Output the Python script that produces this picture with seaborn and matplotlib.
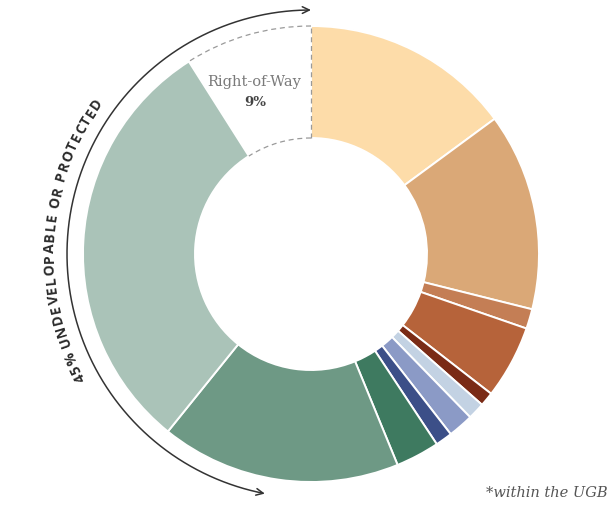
import numpy as np
import matplotlib
matplotlib.use("Agg")
import matplotlib.pyplot as plt
import seaborn as sns
from matplotlib.patches import Arc, FancyArrowPatch
from matplotlib.path import Path
from matplotlib.font_manager import FontProperties

# Land share within the urban growth boundary (percent), clockwise from 12 o'clock
categories = [
    "Single-family", "Multi-family", "Mixed use", "Commercial", "Industrial",
    "Institutional", "Public facilities", "Utilities", "Parks",
    "Protected natural areas", "Undevelopable", "Right-of-Way",
]
shares = [14.9, 14.0, 1.4, 5.2, 1.0, 1.2, 1.8, 1.2, 3.1, 17.0, 30.2, 9.0]
colors = [
    "#FDDCA9", "#DAA877", "#C47E55", "#B6633A", "#7A2B16",
    "#C3D2E3", "#8B9AC6", "#3C4F88", "#3E7A60", "#6E9985", "#AAC3B8", "#FFFFFF",
]
row_label = "Right-of-Way"
row_value = shares[-1]
arc_label = "45% UNDEVELOPABLE OR PROTECTED"
footnote = "*within the UGB"

sns.set_theme(style="white")
W, H, DPI = 611, 505, 100
fig = plt.figure(figsize=(W / DPI, H / DPI), dpi=DPI)
fig.patch.set_facecolor("white")
ax = fig.add_axes([0, 0, 1, 1])

R_PX = 228.0          # outer radius in pixels
CX, CY = 311, 254     # ring centre in pixels (from top-left)
inner = 116.0 / R_PX


def px(x, y):
    """Pixel position (from top-left) to data coordinates of the ring."""
    return (x - CX) / R_PX, (CY - y) / R_PX


wedges, _ = ax.pie(
    shares,
    colors=sns.color_palette(colors),
    startangle=90,
    counterclock=False,
    radius=1.0,
    wedgeprops=dict(width=1 - inner, edgecolor="white", linewidth=1.4),
)
wedges[-1].set_edgecolor("none")

# dashed outline around the right-of-way slice
row_span = 360.0 * row_value / sum(shares)
dash = dict(color="#9a9a9a", lw=0.9, linestyle=(0, (4, 3)))
ax.add_patch(Arc((0, 0), 2.0, 2.0, theta1=90, theta2=90 + row_span, **dash))
ax.add_patch(Arc((0, 0), 2 * inner, 2 * inner, theta1=90, theta2=90 + row_span, **dash))
ax.plot([0, 0], [inner, 1.0], **dash)

ax.text(*px(254, 82), row_label, family="DejaVu Serif", fontsize=10.5,
        color="#7a7a7a", ha="center", va="center")
ax.text(*px(255, 103), f"{row_value:.0f}%", family="DejaVu Serif", fontsize=9.5,
        fontweight="bold", color="#444444", ha="center", va="center")

# double-headed bracket arc on the left side
r_arc = 244.0 / R_PX
th = np.radians(np.linspace(259.1, 90.0, 200))
arc_path = Path(np.column_stack([r_arc * np.cos(th), r_arc * np.sin(th)]))
ax.add_patch(FancyArrowPatch(path=arc_path,
                             arrowstyle="<->,head_length=5,head_width=2.4",
                             mutation_scale=1, color="#333333", lw=1.1,
                             shrinkA=0, shrinkB=0))

# curved label along the bracket
fp = FontProperties(family="Open Sans", weight="bold", size=10)
fig.canvas.draw()
renderer = fig.canvas.get_renderer()
base = renderer.get_text_width_height_descent("xx", fp, ismath=False)[0]
widths = [renderer.get_text_width_height_descent("x" + c + "x", fp, ismath=False)[0] - base
          for c in arc_label]
r_txt = 1.145
t_start, t_end = 209.0, 144.0
arc_len = np.radians(t_start - t_end) * r_txt * R_PX
track = (arc_len - sum(widths)) / (len(arc_label) - 1)
s = 0.0
for c, w in zip(arc_label, widths):
    centre = s + w / 2
    theta = np.radians(t_start) - centre / (r_txt * R_PX)
    ax.text(r_txt * np.cos(theta), r_txt * np.sin(theta), c, fontproperties=fp,
            color="#2b2b2b", rotation=np.degrees(theta) - 90,
            rotation_mode="anchor", ha="center", va="center")
    s += w + track

ax.text(*px(608, 493), footnote, family="DejaVu Serif", style="italic",
        fontsize=10.5, color="#555555", ha="right", va="center")

ax.set_xlim(-CX / R_PX, (W - CX) / R_PX)
ax.set_ylim(-(H - CY) / R_PX, CY / R_PX)
ax.set_aspect("equal")
ax.axis("off")

fig.savefig("out.png", dpi=DPI, facecolor="white")
